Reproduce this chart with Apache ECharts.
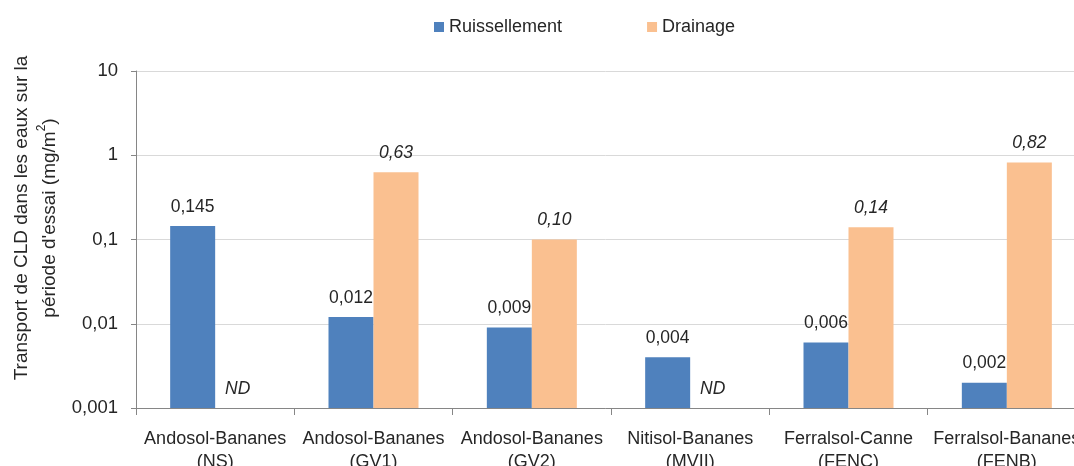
<!DOCTYPE html>
<html>
<head>
<meta charset="utf-8">
<script src="https://cdn.jsdelivr.net/npm/echarts@6/dist/echarts.min.js"></script>
<style>
  html, body { margin: 0; padding: 0; background: #fff; }
  #chart { width: 1074px; height: 466px; }
</style>
</head>
<body>
<div id="chart"></div>
<script>
// Sites (soil / crop, plot code)
const categories = [
  'Andosol-Bananes\n(NS)',
  'Andosol-Bananes\n(GV1)',
  'Andosol-Bananes\n(GV2)',
  'Nitisol-Bananes\n(MVII)',
  'Ferralsol-Canne\n(FENC)',
  'Ferralsol-Bananes\n(FENB)'
];
// CLD transport (mg/m²) over the trial period; null = not determined
const ruissellement = [0.145, 0.012, 0.009, 0.004, 0.006, 0.002];
const drainage = [null, 0.63, 0.10, null, 0.14, 0.82];
// Decade ticks of the log axis
const yTicks = [0.001, 0.01, 0.1, 1, 10];

const FONT = 'Liberation Sans, Arial, sans-serif';
const BLUE = '#4F81BD';
const ORANGE = '#FAC090';
const TEXT = '#262626';
const axisMin = yTicks[0];
const axisMax = yTicks[yTicks.length - 1];

const fr = (v, d) => v.toFixed(d).replace('.', ',');

// Missing drainage values: invisible zero-height bar carrying the "ND" tag
const drainageData = drainage.map(v => v === null
  ? { value: axisMin, itemStyle: { color: 'rgba(0,0,0,0)' }, label: { formatter: 'ND' } }
  : v);

const chart = echarts.init(document.getElementById('chart'), null, { renderer: 'canvas' });
chart.setOption({
  animation: false,
  backgroundColor: '#ffffff',
  textStyle: { fontFamily: FONT },
  legend: {
    left: 429,
    top: 13,
    icon: 'rect',
    itemWidth: 10,
    itemHeight: 10,
    itemGap: 85,
    textStyle: { fontFamily: FONT, fontSize: 18, color: TEXT },
    data: ['Ruissellement', 'Drainage']
  },
  // the last category runs a little past the right edge of the canvas
  grid: { left: 136, right: -12, top: 71, bottom: 58, outerBoundsMode: 'none', containLabel: false },
  xAxis: {
    type: 'category',
    data: categories,
    axisLine: { lineStyle: { color: '#868686', width: 1 } },
    axisTick: { show: true, length: 7, lineStyle: { color: '#868686' } },
    axisLabel: {
      interval: 0,
      margin: 20,
      fontFamily: FONT,
      fontSize: 18,
      lineHeight: 23,
      color: TEXT,
      hideOverlap: false
    }
  },
  yAxis: {
    type: 'log',
    logBase: 10,
    min: axisMin,
    max: axisMax,
    startValue: axisMin,
    axisLine: { show: true, lineStyle: { color: '#868686', width: 1 } },
    axisTick: { show: true, length: 5, lineStyle: { color: '#868686' } },
    splitLine: { show: true, lineStyle: { color: '#D9D9D9', width: 1 } },
    minorTick: { show: false },
    axisLabel: {
      margin: 18,
      fontFamily: FONT,
      fontSize: 18.5,
      color: TEXT,
      formatter: v => String(Number(v.toPrecision(6))).replace('.', ',')
    }
  },
  graphic: [{
    type: 'text',
    x: 36,
    y: 218,
    rotation: Math.PI / 2,
    style: {
      text: "Transport de CLD dans les eaux sur la\npériode d'essai (mg/m{sup|2})",
      fontFamily: FONT,
      fontSize: 19,
      lineHeight: 28,
      fill: TEXT,
      align: 'center',
      verticalAlign: 'middle',
      rich: {
        sup: { fontSize: 12, verticalAlign: 'top', lineHeight: 18, fill: TEXT, fontFamily: FONT }
      }
    }
  }],
  series: [
    {
      name: 'Ruissellement',
      type: 'bar',
      data: ruissellement,
      barWidth: 45,
      barGap: '0%',
      itemStyle: { color: BLUE },
      label: {
        show: true,
        position: 'top',
        distance: 10,
        fontFamily: FONT,
        fontSize: 17.5,
        color: TEXT,
        formatter: p => fr(p.value, 3)
      }
    },
    {
      name: 'Drainage',
      type: 'bar',
      data: drainageData,
      barWidth: 45,
      barGap: '0%',
      itemStyle: { color: ORANGE },
      label: {
        show: true,
        position: 'top',
        distance: 10,
        fontFamily: FONT,
        fontSize: 17.5,
        fontStyle: 'italic',
        color: TEXT,
        formatter: p => fr(p.value, 2)
      }
    }
  ]
});
</script>
</body>
</html>
